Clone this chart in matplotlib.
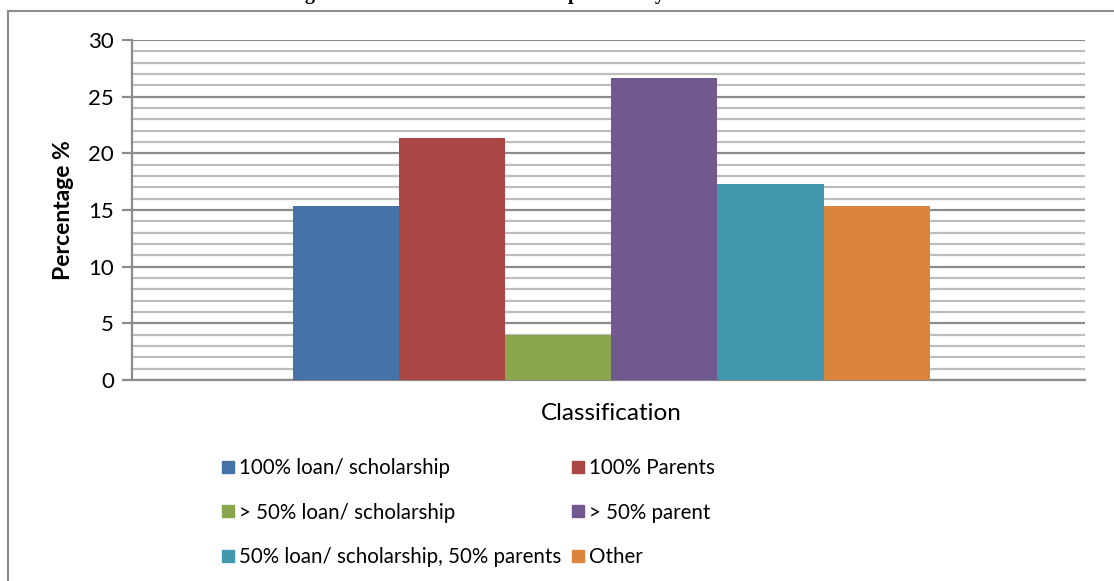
import matplotlib
matplotlib.use("Agg")
import matplotlib.pyplot as plt
from matplotlib.lines import Line2D
from matplotlib.ticker import MultipleLocator

# Data
categories = ["100% loan/ scholarship", "100% Parents", "> 50% loan/ scholarship",
              "> 50% parent", "50% loan/ scholarship, 50% parents", "Other"]
percentages = [15.33, 21.33, 4.0, 26.67, 17.33, 15.33]
colors = ["#4572A7", "#AA4643", "#89A54E", "#71588F", "#4198AF", "#DB843D"]
y_ticks = [0, 5, 10, 15, 20, 25, 30]
title_text = "Figure 5: Financial Status of Respondent by Financial Sources"

plt.rcParams["font.family"] = ["Lato", "DejaVu Sans"]

W, H = 1114, 581
fig = plt.figure(figsize=(W / 100, H / 100), dpi=100)

def fx(px):
    return px / W

def fy(py):
    return 1 - py / H

ax = fig.add_axes([fx(132), fy(380), fx(1085) - fx(132), fy(40) - fy(380)])

# Bars: one cluster of six series around the single category
n = len(percentages)
bar_w = 0.668 / n
for i, (lab, val, col) in enumerate(zip(categories, percentages, colors)):
    ax.bar((i - (n - 1) / 2) * bar_w + 0.003, val, width=bar_w, color=col,
           label=lab, zorder=3, linewidth=0)

ax.set_xlim(-0.5, 0.5)
ax.set_ylim(0, 30)
ax.set_yticks(y_ticks)
ax.yaxis.set_minor_locator(MultipleLocator(1))
ax.set_xticks([])

ax.grid(axis="y", which="minor", color="#BDBDBD", linewidth=1.6, zorder=0)
ax.grid(axis="y", which="major", color="#8C8C8C", linewidth=1.6, zorder=1)
ax.set_axisbelow(True)

for side in ["top", "right"]:
    ax.spines[side].set_visible(False)
for side in ["left", "bottom"]:
    ax.spines[side].set_color("#8C8C8C")
    ax.spines[side].set_linewidth(1.6)

ax.tick_params(axis="y", which="major", length=7, width=1.6, color="#8C8C8C",
               labelsize=16, pad=6, labelcolor="black")
ax.tick_params(axis="y", which="minor", length=0)
ax.tick_params(axis="x", length=0)

ax.set_ylabel("Percentage %", fontsize=16.5, fontweight="bold", labelpad=10)
fig.text(fx(611), fy(414), "Classification", fontsize=17.5, ha="center", va="center")

# Legend: three rows, two columns, filled row by row
handles = [Line2D([], [], marker="s", linestyle="none", markersize=8,
                  markerfacecolor=c, markeredgecolor=c) for c in colors]
order = [0, 2, 4, 1, 3, 5]
fig.legend([handles[i] for i in order], [categories[i] for i in order],
           ncol=2, loc="upper left", bbox_to_anchor=(fx(222), fy(458)),
           frameon=False, fontsize=14.8, handlelength=0.55, handletextpad=0.3,
           labelspacing=1.2, columnspacing=0.5, borderaxespad=0, borderpad=0)

# Chart frame
fig.add_artist(Line2D([fx(8), 1], [fy(11), fy(11)], color="#8C8C8C", linewidth=1.5))
fig.add_artist(Line2D([fx(8), fx(8)], [fy(11), 0], color="#8C8C8C", linewidth=1.5))

# Title sits above the frame, running off the top edge
fig.text(fx(555), fy(-1), title_text, fontsize=14.5, fontweight="bold",
         family=["Liberation Serif", "DejaVu Serif"], ha="center", va="baseline")

fig.savefig("out.png", dpi=100)
